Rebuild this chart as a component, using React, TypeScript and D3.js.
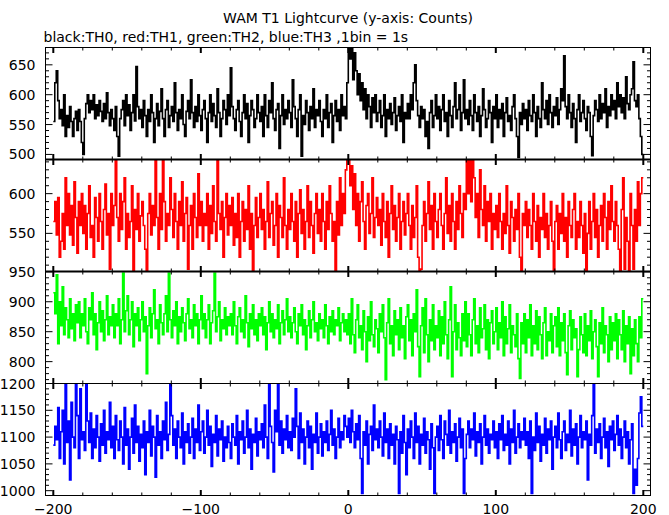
import React from "react";
import * as d3 from "d3";

const TITLE = "WAM T1 Lightcurve (y-axis: Counts)";
const SUBTITLE = "black:TH0, red:TH1, green:TH2, blue:TH3 ,1bin = 1s";
const T_START = -200;
const X_TICKS = [-200, -100, 0, 100, 200];

// TH0 (black), 1 s bins from t=-200 to t=199
const th0 = [
  555, 620, 640, 590, 560, 575, 548, 600, 530, 565, 545, 580, 555, 530, 560, 572, 540, 575, 555, 520,
  500, 560, 585, 600, 570, 590, 575, 600, 560, 583, 565, 590, 572, 555, 585, 560, 603, 570, 548, 575,
  560, 540, 580, 530, 497, 560, 575, 590, 548, 600, 565, 583, 540, 570, 600, 556, 647, 580, 560, 575,
  545, 590, 565, 530, 575, 555, 600, 570, 520, 560, 585, 548, 572, 610, 560, 530, 575, 590, 545, 565,
  580, 555, 620, 570, 540, 575, 560, 600, 550, 530, 572, 590, 560, 625, 570, 545, 580, 555, 600, 565,
  540, 575, 590, 560, 520, 570, 600, 555, 585, 565, 545, 610, 570, 530, 560, 590, 575, 550, 600, 565,
  645, 580, 560, 540, 575, 590, 555, 530, 570, 600, 560, 585, 520, 565, 590, 575, 545, 560, 600, 570,
  555, 580, 530, 600, 565, 545, 590, 570, 620, 560, 540, 575, 585, 510, 565, 600, 550, 575, 560, 590,
  570, 545, 625, 580, 560, 530, 575, 600, 497, 565, 550, 590, 570, 540, 580, 560, 610, 545, 575, 565,
  590, 555, 530, 575, 560, 600, 545, 570, 585, 520, 565, 590, 555, 575, 540, 600, 565, 580, 560, 620,
  690, 660, 685, 625, 670, 640, 600, 635, 590, 620, 575, 610, 560, 600, 580, 545, 595, 570, 600, 555,
  570, 590, 545, 565, 600, 530, 575, 560, 585, 550, 570, 595, 540, 565, 580, 555, 600, 520, 570, 560,
  585, 560, 600, 575, 620, 650, 590, 565, 545, 580, 560, 575, 530, 555, 510, 570, 590, 545, 565, 600,
  560, 580, 540, 575, 600, 555, 570, 530, 590, 565, 545, 580, 620, 560, 575, 600, 540, 570, 625, 560,
  575, 550, 590, 565, 540, 600, 570, 555, 580, 530, 565, 610, 575, 545, 560, 590, 570, 520, 580, 560,
  600, 545, 575, 560, 585, 530, 570, 595, 555, 565, 540, 580, 600, 560, 530, 495, 570, 550, 585, 560,
  575, 540, 590, 565, 555, 600, 570, 530, 580, 560, 545, 620, 575, 560, 590, 550, 600, 570, 545, 580,
  565, 595, 550, 575, 610, 590, 665, 580, 560, 600, 570, 545, 585, 560, 520, 575, 600, 555, 570, 590,
  560, 540, 580, 570, 530, 498, 565, 590, 575, 555, 600, 560, 585, 570, 610, 545, 580, 565, 600, 575,
  590, 560, 620, 580, 600, 570, 595, 560, 630, 585, 575, 600, 610, 655, 590, 580, 600, 560, 530, 500,
];

// TH1 (red)
const th1 = [
  565, 590, 548, 595, 520, 540, 575, 530, 620, 560, 600, 548, 585, 535, 615, 570, 525, 590, 560, 600,
  550, 585, 530, 575, 610, 545, 560, 520, 595, 570, 540, 600, 565, 530, 580, 612, 548, 575, 505, 600,
  560, 585, 645, 570, 540, 600, 555, 590, 620, 530, 575, 545, 565, 610, 500, 580, 555, 600, 540, 572,
  590, 560, 530, 503, 575, 600, 548, 585, 560, 645, 570, 530, 600, 555, 645, 590, 540, 575, 560, 620,
  580, 545, 600, 565, 530, 590, 560, 615, 540, 575, 595, 505, 560, 585, 530, 600, 570, 545, 625, 560,
  590, 540, 575, 560, 600, 530, 585, 550, 610, 565, 540, 645, 575, 555, 590, 520, 570, 600, 548, 585,
  560, 595, 535, 575, 545, 600, 520, 565, 590, 540, 580, 555, 610, 530, 575, 503, 560, 595, 545, 570,
  600, 555, 580, 530, 565, 615, 545, 575, 590, 535, 560, 600, 520, 585, 570, 545, 620, 560, 530, 580,
  555, 600, 565, 540, 590, 520, 575, 605, 550, 580, 530, 565, 610, 545, 590, 560, 525, 575, 600, 550,
  580, 540, 600, 565, 530, 590, 555, 610, 575, 540, 565, 503, 590, 548, 620, 560, 600, 575, 630, 645,
  645, 610, 635, 580, 625, 560, 600, 540, 590, 615, 565, 530, 585, 600, 550, 575, 620, 545, 570, 595,
  560, 580, 535, 600, 565, 545, 590, 520, 575, 610, 555, 585, 540, 570, 600, 530, 565, 590, 548, 575,
  600, 560, 530, 585, 545, 570, 610, 520, 503, 505, 560, 590, 540, 575, 615, 555, 585, 530, 600, 565,
  545, 580, 600, 560, 530, 575, 620, 550, 585, 540, 600, 565, 530, 590, 555, 610, 575, 545, 600, 580,
  645, 600, 645, 590, 645, 620, 570, 600, 545, 630, 580, 560, 610, 540, 590, 565, 600, 530, 575, 555,
  585, 545, 600, 565, 530, 575, 550, 610, 560, 525, 590, 570, 540, 580, 555, 600, 520, 503, 575, 560,
  590, 545, 580, 560, 530, 600, 565, 540, 585, 520, 570, 555, 600, 545, 575, 530, 560, 590, 540, 503,
  565, 585, 530, 575, 550, 600, 540, 570, 520, 590, 560, 545, 580, 600, 530, 565, 545, 590, 560, 525,
  575, 503, 550, 590, 530, 565, 600, 545, 580, 520, 560, 585, 540, 600, 570, 530, 590, 555, 610, 565,
  540, 590, 560, 530, 503, 580, 620, 505, 570, 540, 503, 600, 560, 505, 580, 540, 615, 560, 600, 620,
];

// TH2 (green)
const th2 = [
  915, 880, 945, 830, 900, 860, 925, 845, 890, 870, 840, 905, 855, 880, 835, 895, 865, 900, 840, 880,
  860, 905, 850, 830, 890, 870, 915, 845, 880, 820, 865, 900, 850, 885, 835, 870, 910, 845, 875, 860,
  895, 840, 880, 860, 905, 830, 870, 948, 850, 885, 910, 845, 870, 900, 825, 880, 860, 890, 835, 870,
  900, 850, 875, 780, 860, 890, 840, 880, 920, 855, 870, 830, 895, 865, 845, 880, 910, 850, 948, 870,
  840, 885, 860, 900, 830, 875, 850, 890, 865, 835, 880, 905, 855, 870, 840, 895, 860, 880, 830, 870,
  910, 855, 880, 840, 870, 895, 830, 865, 885, 948, 850, 875, 900, 835, 870, 855, 890, 845, 875, 860,
  880, 845, 900, 860, 830, 875, 890, 850, 870, 840, 910, 865, 825, 880, 855, 895, 845, 870, 835, 880,
  860, 890, 845, 875, 820, 865, 900, 850, 880, 840, 870, 855, 895, 830, 865, 885, 845, 870, 905, 850,
  875, 840, 865, 890, 850, 830, 880, 860, 895, 845, 870, 820, 860, 885, 840, 870, 900, 850, 865, 835,
  880, 855, 870, 840, 895, 860, 830, 875, 850, 885, 845, 870, 860, 890, 835, 865, 880, 850, 870, 845,
  880, 830, 905, 845, 815, 870, 895, 840, 860, 820, 885, 850, 800, 875, 835, 900, 845, 825, 870, 855,
  815, 880, 850, 895, 840, 770, 865, 905, 830, 860, 810, 885, 845, 870, 820, 890, 840, 860, 805, 875,
  895, 835, 870, 810, 880, 850, 920, 825, 775, 860, 890, 815, 905, 845, 800, 870, 835, 895, 820, 860,
  840, 885, 810, 875, 830, 900, 845, 805, 870, 925, 775, 850, 895, 820, 865, 840, 810, 880, 835, 900,
  825, 880, 845, 810, 870, 905, 830, 860, 815, 890, 840, 855, 895, 820, 870, 805, 865, 885, 830, 850,
  890, 820, 865, 840, 900, 810, 875, 830, 855, 895, 815, 860, 845, 825, 880, 805, 772, 865, 830, 880,
  815, 870, 840, 895, 810, 860, 830, 885, 820, 875, 845, 805, 865, 890, 810, 850, 835, 880, 815, 860,
  875, 825, 890, 810, 865, 835, 880, 815, 778, 860, 885, 820, 870, 840, 855, 775, 820, 875, 845, 815,
  880, 810, 860, 835, 885, 805, 850, 870, 825, 775, 865, 830, 890, 815, 860, 845, 800, 875, 820, 865,
  835, 880, 805, 870, 845, 820, 885, 800, 860, 830, 875, 780, 855, 810, 870, 830, 800, 875, 840, 905,
];

// TH3 (blue)
const th3 = [
  1085, 1120, 1095, 1155, 1060, 1110, 1150, 1050, 1200, 1090, 1130, 1020, 1165, 1100, 1080, 1200, 1140, 1060, 1190, 1095,
  1110, 1075, 1200, 1130, 1090, 1145, 1060, 1115, 1080, 1140, 1100, 1055, 1125, 1085, 1150, 1070, 1110, 1095, 1165, 1080,
  1120, 1060, 1140, 1095, 1075, 1130, 1100, 1050, 1155, 1085, 1115, 1040, 1100, 1135, 1070, 1160, 1090, 1120, 1055, 1105,
  1080, 1130, 1030, 1110, 1090, 1150, 1065, 1120, 1100, 1025, 1140, 1085, 1110, 1060, 1130, 1095, 1165, 1075, 1105, 1200,
  1140, 1085, 1115, 1060, 1130, 1100, 1080, 1145, 1050, 1110, 1090, 1125, 1070, 1100, 1135, 1060, 1115, 1090, 1160, 1075,
  1110, 1130, 1070, 1100, 1150, 1085, 1120, 1045, 1105, 1090, 1140, 1065, 1115, 1095, 1130, 1055, 1100, 1080, 1120, 1090,
  1060, 1125, 1100, 1085, 1140, 1050, 1110, 1095, 1130, 1070, 1100, 1150, 1080, 1115, 1040, 1105, 1090, 1135, 1065, 1110,
  1095, 1125, 1080, 1160, 1100, 1060, 1200, 1120, 1090, 1035, 1150, 1110, 1200, 1085, 1130, 1070, 1115, 1095, 1140, 1080,
  1110, 1075, 1135, 1100, 1190, 1120, 1060, 1145, 1090, 1115, 1050, 1100, 1130, 1080, 1120, 1040, 1105, 1090, 1145, 1070,
  1100, 1125, 1065, 1110, 1090, 1130, 1075, 1105, 1150, 1085, 1115, 1060, 1100, 1135, 1080, 1110, 1095, 1140, 1120, 1100,
  1135, 1090, 1150, 1110, 1080, 1125, 1095, 1140, 1060, 995, 1110, 1085, 1130, 1050, 1105, 1120, 1075, 1160, 1095, 1115,
  1080, 1130, 1100, 1065, 1145, 1090, 1115, 1060, 1125, 1085, 1105, 1050, 1120, 1095, 995, 1110, 1070, 1140, 1090, 1030,
  1115, 1080, 1130, 1100, 1060, 1145, 1090, 1120, 1050, 1105, 1085, 1135, 1070, 1110, 1095, 1040, 1125, 1080, 995, 1100,
  1120, 1075, 1140, 1095, 1060, 1130, 1105, 1085, 1150, 1070, 1110, 1090, 1125, 1055, 1100, 1135, 1080, 1115, 995, 1060,
  1105, 1130, 1080, 1115, 1095, 1145, 1065, 1110, 1090, 1125, 1050, 1100, 1140, 1085, 1115, 1070, 1105, 1095, 1130, 1080,
  1110, 1060, 1125, 1095, 1140, 1075, 1105, 1085, 1130, 1050, 1115, 1090, 1150, 1070, 1100, 1125, 1080, 1110, 1095, 1135,
  1085, 1110, 1060, 1130, 995, 1100, 1075, 1145, 1090, 1120, 1055, 1105, 1085, 1135, 1070, 1115, 1095, 1130, 1040, 1100,
  1120, 1080, 1145, 1095, 1060, 1110, 1130, 1075, 1105, 1090, 1150, 1065, 1115, 1085, 1125, 1050, 1100, 1140, 1080, 1110,
  1095, 1130, 1020, 1105, 1085, 1140, 1200, 1070, 1115, 1090, 1125, 1060, 1100, 1135, 1080, 1110, 1045, 1120, 1095, 1130,
  1075, 1105, 1140, 1085, 1115, 1060, 1100, 1130, 1080, 1110, 1050, 1095, 1125, 995, 1040, 1010, 1060, 1145, 1175, 1120,
];

const th0Ticks = [500, 550, 600, 650];
const th1Ticks = [550, 600];
const th2Ticks = [800, 850, 900, 950];
const th3Ticks = [1000, 1050, 1100, 1150, 1200];

const panels = [
  { key: "th0", values: th0, color: "#000000", domain: [491.5, 679], ticks: th0Ticks },
  { key: "th1", values: th1, color: "#ff0000", domain: [502, 643], ticks: th1Ticks },
  { key: "th2", values: th2, color: "#00ff00", domain: [763.5, 950.5], ticks: th2Ticks },
  { key: "th3", values: th3, color: "#0000ff", domain: [991, 1200], ticks: th3Ticks },
];

const W = 669;
const H = 515;
const FRAME_L = 45.5;
const FRAME_R = 650.5;
const TOP = 47.5;
const PANEL_H = 112;
const FONT = "'DejaVu Sans', sans-serif";

export default function App() {
  const x = d3.scaleLinear().domain([-200, 200]).range([53.3, 643.3]);
  const majorX = X_TICKS;
  const minorX = d3.range(-200, 201, 20).filter((v) => !majorX.includes(v));

  return (
    <svg
      width={W}
      height={H}
      style={{ position: "absolute", left: 0, top: 0, background: "#fff" }}
      fontFamily={FONT}
    >
      <rect x={0} y={0} width={W} height={H} fill="#fff" />
      <text x={348} y={23} textAnchor="middle" fontSize={14}>
        {TITLE}
      </text>
      <text x={43.5} y={41.5} fontSize={14}>
        {SUBTITLE}
      </text>
      {panels.map((p, pi) => {
        const top = TOP + pi * PANEL_H;
        const bottom = top + PANEL_H;
        const y = d3.scaleLinear().domain(p.domain).range([bottom, top]);
        const pts = [...p.values, p.values[p.values.length - 1]];
        const line = d3
          .line<number>()
          .x((_, i) => x(T_START + i))
          .y((d) => y(d))
          .curve(d3.curveStepAfter);
        const [lo, hi] = p.domain;
        const minorY = d3
          .range(Math.ceil(lo / 10) * 10, hi + 0.001, 10)
          .filter((v) => v % 50 !== 0);
        const majorY = d3.range(Math.ceil(lo / 50) * 50, hi + 0.001, 50);
        const clipId = `clip-${p.key}`;
        return (
          <g key={p.key}>
            <clipPath id={clipId}>
              <rect x={FRAME_L} y={top} width={FRAME_R - FRAME_L} height={PANEL_H} />
            </clipPath>
            <path
              d={line(pts) || ""}
              fill="none"
              stroke={p.color}
              strokeWidth={1.6}
              strokeLinejoin="miter"
              clipPath={`url(#${clipId})`}
            />
            <rect
              x={FRAME_L}
              y={top}
              width={FRAME_R - FRAME_L}
              height={PANEL_H}
              fill="none"
              stroke="#000"
              strokeWidth={1}
            />
            {majorY.map((v) => (
              <g key={`M${v}`}>
                <line x1={FRAME_L} x2={FRAME_L + 7} y1={y(v)} y2={y(v)} stroke="#000" strokeWidth={1} />
                <line x1={FRAME_R} x2={FRAME_R - 7} y1={y(v)} y2={y(v)} stroke="#000" strokeWidth={1} />
              </g>
            ))}
            {minorY.map((v) => (
              <g key={`m${v}`}>
                <line x1={FRAME_L} x2={FRAME_L + 3.5} y1={y(v)} y2={y(v)} stroke="#000" strokeWidth={1} />
                <line x1={FRAME_R} x2={FRAME_R - 3.5} y1={y(v)} y2={y(v)} stroke="#000" strokeWidth={1} />
              </g>
            ))}
            {majorX.map((v) => (
              <g key={`X${v}`}>
                <line x1={x(v)} x2={x(v)} y1={top} y2={top + 5.5} stroke="#000" strokeWidth={2} />
                <line x1={x(v)} x2={x(v)} y1={bottom} y2={bottom - 5.5} stroke="#000" strokeWidth={2} />
              </g>
            ))}
            {minorX.map((v) => (
              <g key={`x${v}`}>
                <line x1={x(v)} x2={x(v)} y1={top} y2={top + 3} stroke="#000" strokeWidth={1} />
                <line x1={x(v)} x2={x(v)} y1={bottom} y2={bottom - 3} stroke="#000" strokeWidth={1} />
              </g>
            ))}
            {p.ticks.map((v) => (
              <text key={`t${v}`} x={35.5} y={y(v) + 5} textAnchor="end" fontSize={14}>
                {v}
              </text>
            ))}
          </g>
        );
      })}
      <line x1={FRAME_L} x2={FRAME_R} y1={TOP + PANEL_H} y2={TOP + PANEL_H} stroke="#000" strokeWidth={2} />
      <line x1={FRAME_L} x2={FRAME_R} y1={TOP + 2 * PANEL_H} y2={TOP + 2 * PANEL_H} stroke="#000" strokeWidth={2} />
      {X_TICKS.map((v) => (
        <text key={`xl${v}`} x={x(v)} y={513.5} textAnchor="middle" fontSize={14}>
          {v < 0 ? `\u2212${-v}` : `${v}`}
        </text>
      ))}
    </svg>
  );
}
